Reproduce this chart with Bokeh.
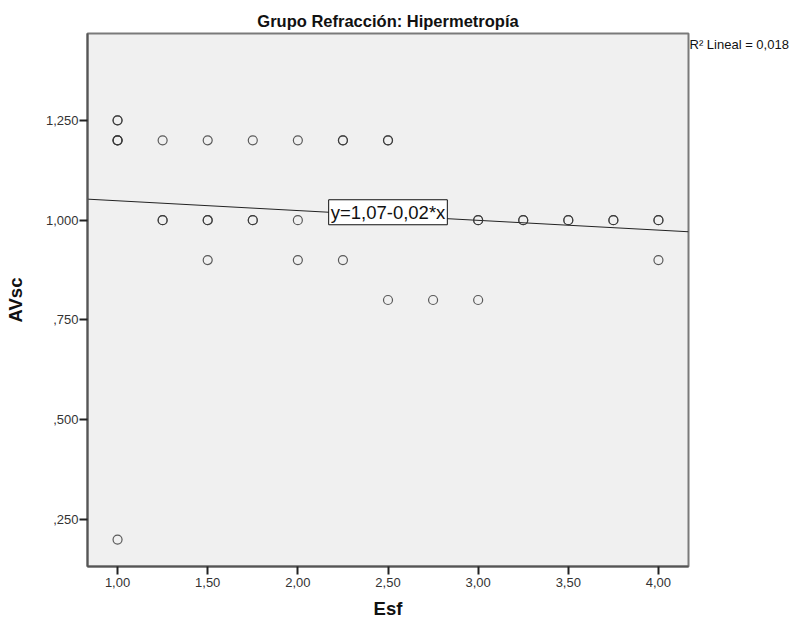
from bokeh.plotting import figure
from bokeh.models import Range1d, Label, FixedTicker, ColumnDataSource, LinearAxis
from bokeh.embed import file_html
from bokeh.resources import INLINE

# Data (Esf, AVsc) - duplicated pairs represent overlapping observations
esf = [1.00, 1.00, 1.00, 1.00, 1.00, 1.00,
       1.25, 1.25, 1.25,
       1.50, 1.50, 1.50, 1.50,
       1.75, 1.75, 1.75,
       2.00, 2.00, 2.00,
       2.25, 2.25, 2.25,
       2.50, 2.50, 2.50,
       2.75,
       3.00, 3.00, 3.00,
       3.25, 3.25,
       3.50, 3.50,
       3.75, 3.75,
       4.00, 4.00, 4.00]
avsc = [1.25, 1.25, 1.20, 1.20, 0.20, 1.20,
        1.20, 1.00, 1.00,
        1.20, 1.00, 1.00, 0.90,
        1.20, 1.00, 1.00,
        1.20, 1.00, 0.90,
        1.20, 1.20, 0.90,
        1.20, 1.20, 0.80,
        0.80,
        1.00, 1.00, 0.80,
        1.00, 1.00,
        1.00, 1.00,
        1.00, 1.00,
        1.00, 1.00, 0.90]

fit_intercept = 1.073
fit_slope = -0.0245
fit_label = "y=1,07-0,02*x"
r2_label = "R\u00b2 Lineal = 0,018"

x_ticks = [1.0, 1.5, 2.0, 2.5, 3.0, 3.5, 4.0]
x_tick_labels = ["1,00", "1,50", "2,00", "2,50", "3,00", "3,50", "4,00"]
y_ticks = [0.25, 0.5, 0.75, 1.0, 1.25]
y_tick_labels = [",250", ",500", ",750", "1,000", "1,250"]

x0, x1 = 0.8333, 4.1667
y0, y1 = 0.1325, 1.4675

p = figure(width=798, height=621, output_backend="svg", toolbar_location=None,
           x_range=Range1d(x0, x1), y_range=Range1d(y0, y1),
           min_border_left=87, min_border_right=110, min_border_top=33, min_border_bottom=54)
p.background_fill_color = "#F0F0F0"
p.border_fill_color = "white"
p.outline_line_color = "#7a7a7a"
p.outline_line_width = 2
p.xgrid.visible = False
p.ygrid.visible = False

p.title.text = "Grupo Refracci\u00f3n: Hipermetrop\u00eda"
p.title.align = "center"
p.title.text_font = "Liberation Sans"
p.title.text_font_size = "16.5px"
p.title.text_font_style = "bold"
p.title.text_color = "#111111"
p.title.offset = 9
p.title.standoff = 8

xax = p.xaxis[0]
yax = p.yaxis[0]
for ax, ticks, labels in ((xax, x_ticks, x_tick_labels), (yax, y_ticks, y_tick_labels)):
    ax.ticker = FixedTicker(ticks=ticks)
    ax.major_label_overrides = {t: l for t, l in zip(ticks, labels)}
    ax.minor_tick_line_color = None
    ax.major_tick_out = 8
    ax.major_tick_in = 0
    ax.major_tick_line_width = 2
    ax.major_tick_line_color = "#222222"
    ax.axis_line_color = "#555555"
    ax.axis_line_width = 2
    ax.major_label_text_font = "Liberation Sans"
    ax.major_label_text_font_size = "13px"
    ax.major_label_text_color = "#333333"
    ax.axis_label_text_font = "Liberation Sans"
    ax.axis_label_text_font_size = "18.5px"
    ax.axis_label_text_font_style = "bold"
    ax.axis_label_text_color = "#111111"

xax.axis_label = "Esf"
yax.axis_label = "AVsc"
xax.major_label_standoff = 3
yax.major_label_standoff = 1
xax.axis_label_standoff = 8
yax.axis_label_standoff = 17
yax.major_label_orientation = "horizontal"

# R^2 note next to the frame's top-right corner, drawn as a right-side axis label
r2_axis = LinearAxis(ticker=FixedTicker(ticks=[1.4388]),
                     major_label_overrides={1.4388: r2_label},
                     major_tick_out=0, major_tick_in=0, minor_tick_line_color=None,
                     major_tick_line_color=None, axis_line_color=None,
                     major_label_standoff=1, major_label_text_font="Liberation Sans",
                     major_label_text_font_size="13px", major_label_text_color="#111111")
p.add_layout(r2_axis, "right")

# regression line
lx = [x0, x1]
ly = [fit_intercept + fit_slope * v for v in lx]
p.line(lx, ly, line_color="#222222", line_width=1)

src = ColumnDataSource(dict(x=esf, y=avsc))
p.scatter("x", "y", source=src, marker="circle", size=9, fill_color=None,
          line_color="#333333", line_alpha=0.8, line_width=1.2)

lab_x = 2.5
eq = Label(x=lab_x, y=fit_intercept + fit_slope * lab_x + 0.008, text=fit_label,
           text_align="center", text_baseline="middle",
           text_font="Liberation Sans", text_font_size="18.5px", text_color="#111111",
           background_fill_color="white", border_line_color="#111111", border_line_width=1,
           padding=2)
p.add_layout(eq)

open("out.html", "w").write(file_html(p, INLINE))
